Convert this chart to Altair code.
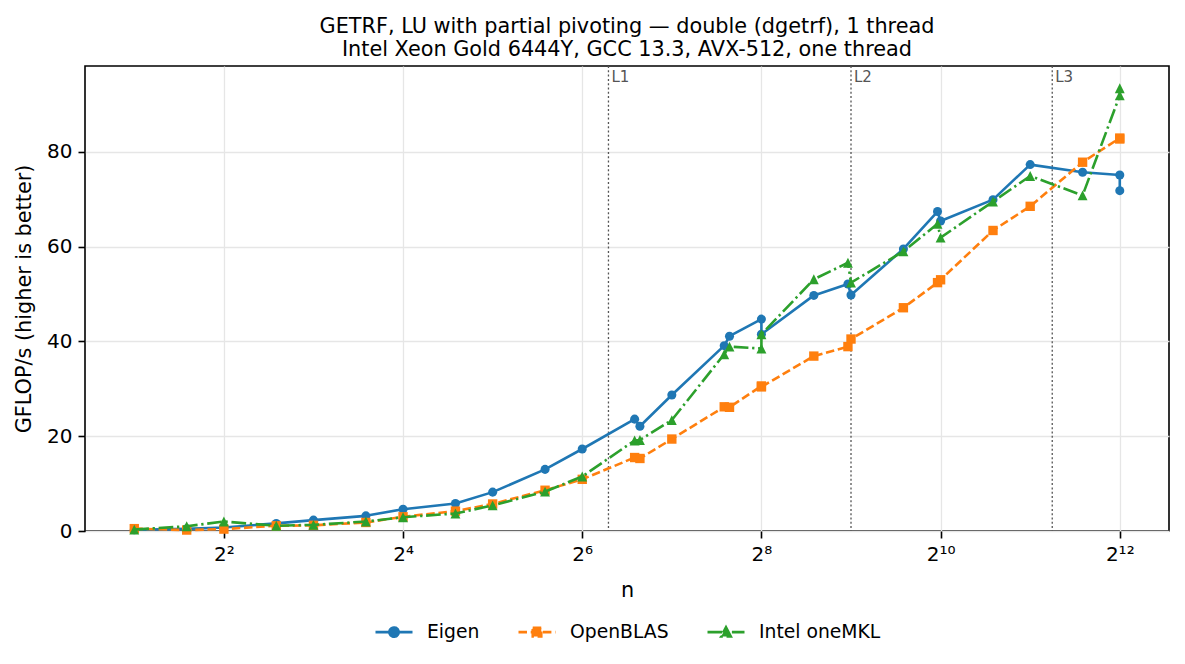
import altair as alt
import pandas as pd

# ---------------- data ----------------
title_lines = [
    "GETRF, LU with partial pivoting — double (dgetrf), 1 thread",
    "Intel Xeon Gold 6444Y, GCC 13.3, AVX-512, one thread",
]
n_values = [2, 3, 4, 6, 8, 12, 16, 24, 32, 48, 64, 96, 100, 128, 192, 200,
            256, 256, 384, 500, 512, 768, 1000, 1024, 1536, 2048, 3072, 4096, 4096]
eigen = [0.25, 0.45, 0.75, 1.6, 2.3, 3.2, 4.6, 5.8, 8.2, 13.0, 17.3, 23.6, 22.1, 28.7, 39.1, 41.1,
         44.7, 41.5, 49.7, 52.1, 49.8, 59.5, 67.4, 65.4, 69.9, 77.3, 75.7, 75.1, 71.8]
openblas = [0.5, 0.2, 0.4, 1.1, 1.2, 1.8, 3.0, 4.2, 5.7, 8.6, 10.9, 15.5, 15.3, 19.4, 26.2, 26.1,
            30.6, 30.4, 36.9, 38.9, 40.5, 47.1, 52.4, 53.0, 63.4, 68.5, 77.8, 82.9, 82.7]
mkl = [0.3, 1.0, 2.0, 1.1, 1.3, 2.0, 2.9, 3.7, 5.4, 8.3, 11.5, 19.1, 19.2, 23.4, 37.3, 38.9,
       38.5, 41.5, 53.1, 56.6, 52.4, 59.0, 64.8, 61.9, 69.5, 74.9, 70.8, 91.9, 93.4]
series_names = ["Eigen", "OpenBLAS", "Intel oneMKL"]
series_values = [eigen, openblas, mkl]
cache_labels = ["L1", "L2", "L3"]
cache_n = [78.4, 512, 2429]
x_tick_values = [4, 16, 64, 256, 1024, 4096]
x_tick_labels = ["2²", "2⁴", "2⁶", "2⁸", "2¹⁰", "2¹²"]
y_tick_values = [0, 20, 40, 60, 80]

# ---------------- styles ----------------
series_colors = ["#1f77b4", "#ff7f0e", "#2ca02c"]
marker_shapes = ["circle", "square", "M0,-1L1,1L-1,1Z"]
marker_sizes = [82, 88, 98]
dashes = [[1, 0], [8.5, 3.7], [14.7, 3.7, 2.3, 3.7]]
legend_paths = [
    "M-1,0H1M0.25,0A0.25,0.25,0,1,1,-0.25,0A0.25,0.25,0,1,1,0.25,0Z",
    "M-1,0H1M-0.23,-0.23H0.23V0.23H-0.23Z",
    "M-1,0H1M0,-0.26L0.26,0.24L-0.26,0.24Z",
]
FONT = "DejaVu Sans"

rows = []
for s, vals in zip(series_names, series_values):
    for i, (n, v) in enumerate(zip(n_values, vals)):
        rows.append({"series": s, "n": n, "gflops": v, "idx": i})
df = pd.DataFrame(rows)
cache_df = pd.DataFrame({"label": cache_labels, "n": cache_n})

x_scale = alt.Scale(type="log", base=2, domain=[1.366, 5994.6], nice=False)
y_scale = alt.Scale(domain=[0, 98.1], nice=False)

label_expr = " : ".join(
    f"abs(datum.value - {v}) < 0.5 ? '{t}'" for v, t in zip(x_tick_values, x_tick_labels)
) + " : ''"

x_enc = alt.X("n:Q", scale=x_scale,
              axis=alt.Axis(values=x_tick_values, labelExpr=label_expr, title="n",
                            titlePadding=16))
y_enc = alt.Y("gflops:Q", scale=y_scale,
              axis=alt.Axis(values=y_tick_values, title="GFLOP/s (higher is better)",
                            titlePadding=12))

base = alt.Chart(df)

rules = alt.Chart(cache_df).mark_rule(color="#555555", strokeWidth=1.3, strokeDash=[2, 2.3]).encode(
    x=alt.X("n:Q", scale=x_scale)
)
cache_text = alt.Chart(cache_df).mark_text(
    align="left", baseline="top", dx=3, fontSize=15, color="#555555", font=FONT
).encode(x=alt.X("n:Q", scale=x_scale), y=alt.value(4), text="label:N")

layers = [rules, cache_text]
for i, s in enumerate(series_names):
    sub = base.transform_filter(alt.datum.series == s)
    line_kw = dict(strokeWidth=2.6, strokeJoin="round", color=series_colors[i])
    if i > 0:
        line_kw["strokeDash"] = dashes[i]
        line_kw["strokeCap"] = "butt"
    line = sub.mark_line(**line_kw).encode(
        x=x_enc, y=y_enc,
        order=alt.Order("idx:Q"),
    )
    pts = sub.mark_point(filled=True, opacity=1, shape=marker_shapes[i], size=marker_sizes[i],
                         color=series_colors[i]).encode(
        x=x_enc, y=y_enc,
    )
    layers += [line, pts]

leg = alt.Legend(
    title=None, orient="none", legendX=289, legendY=546, direction="horizontal",
    symbolSize=1369, symbolStrokeWidth=2.6, symbolOpacity=1, labelOffset=13,
    columnPadding=33, padding=0, labelFont=FONT, labelFontSize=18.75, labelColor="black",
)
legend_layer = base.transform_filter("datum.gflops < 0").mark_point(
    filled=True, strokeWidth=2.6, opacity=1
).encode(
    x=x_enc, y=y_enc,
    color=alt.Color("series:N", scale=alt.Scale(domain=series_names, range=series_colors), legend=leg),
    stroke=alt.Stroke("series:N", scale=alt.Scale(domain=series_names, range=series_colors), legend=leg),
    shape=alt.Shape("series:N", scale=alt.Scale(domain=series_names, range=legend_paths), legend=leg),
    strokeDash=alt.StrokeDash("series:N", scale=alt.Scale(domain=series_names, range=dashes), legend=leg),
)
layers.append(legend_layer)

chart = alt.layer(*layers).properties(
    width=1084, height=465,
    padding={"left": 5, "top": 7, "right": 5, "bottom": 5},
    title=alt.TitleParams(text=title_lines, font=FONT, fontSize=20.8, fontWeight="normal",
                          anchor="middle", frame="group", lineHeight=23, offset=5, color="black"),
).configure_axis(
    labelFont=FONT, labelFontSize=20, labelColor="black",
    titleFont=FONT, titleFontSize=20.8, titleFontWeight="normal", titleColor="black",
    tickColor="black", tickWidth=1.6, tickSize=7, labelPadding=6, domain=False,
    gridColor="#e6e6e6", gridWidth=1.3,
).configure_view(stroke="black", strokeWidth=1.6)

chart.save("out.html", embed_options={"renderer": "svg", "actions": False})
